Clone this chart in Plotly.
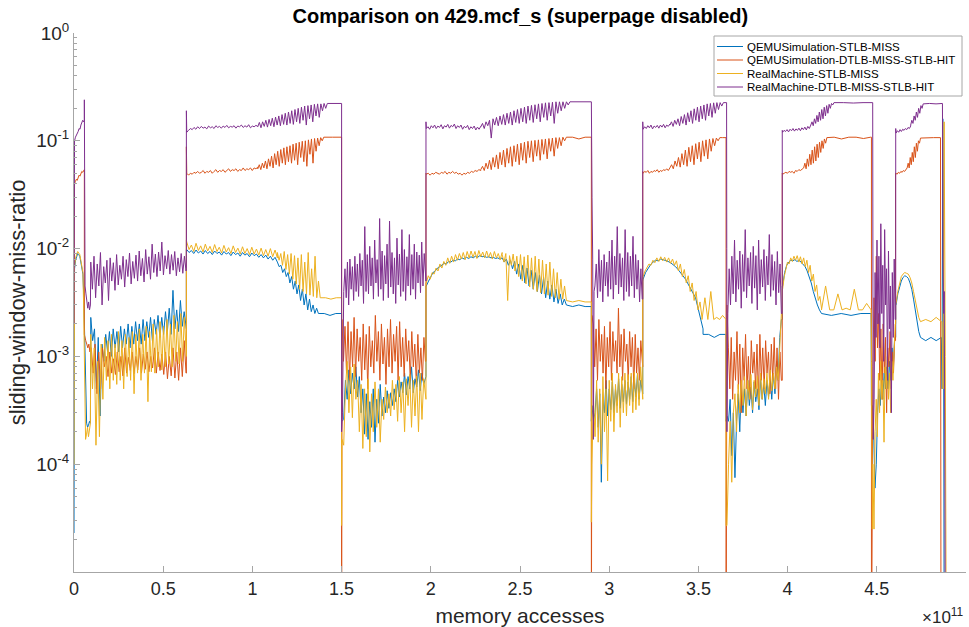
import numpy as np
import plotly.graph_objects as go

# x in units of 1e11 memory accesses; each segment: (x_start, x_end, [sliding-window miss ratio values])
names = ["QEMUSimulation-STLB-MISS", "QEMUSimulation-DTLB-MISS-STLB-HIT",
         "RealMachine-STLB-MISS", "RealMachine-DTLB-MISS-STLB-HIT"]
colors = ["#0072BD", "#D95319", "#EDB120", "#7E2F8E"]
x_ticks = [0, 0.5, 1, 1.5, 2, 2.5, 3, 3.5, 4, 4.5, 5]
x_tick_labels = ["0", "0.5", "1", "1.5", "2", "2.5", "3", "3.5", "4", "4.5", "5"]
y_ticks = [1e-4, 1e-3, 1e-2, 1e-1, 1]
y_tick_labels = ["10<sup>-4</sup>", "10<sup>-3</sup>", "10<sup>-2</sup>", "10<sup>-1</sup>", "10<sup>0</sup>"]

qemu_stlb_miss = [
    (0.0, 0.0, [2.3e-5, 9e-5]),
    (0.003, 0.05, [0.0065, 0.0078, 0.0086, 0.009, 0.0088, 0.0085, 0.0075, 0.0068, 0.0058]),
    (0.055, 0.092, [0.0035, 0.0011, 0.00035, 0.00024, 0.00022, 0.00023, 0.00025, 0.00024]),
    (0.094, 0.628, [0.0023, 0.0014, 0.0018, 0.0005, 0.0015, 0.00028, 0.0013, 0.0009, 0.0016, 0.0011, 0.0017, 0.001,
                    0.0018, 0.0012, 0.0017, 0.0011, 0.0019, 0.0012, 0.0018, 0.0013, 0.002, 0.0012, 0.0019, 0.0013,
                    0.0021, 0.0014, 0.002, 0.0013, 0.0022, 0.0014, 0.0021, 0.0015, 0.0023, 0.0014, 0.0022, 0.0016,
                    0.0024, 0.0015, 0.0023, 0.0016, 0.0026, 0.0017, 0.0028, 0.0016, 0.0041, 0.0018, 0.0027, 0.0017,
                    0.0033, 0.0019, 0.0026, 0.0018]),
    (0.63, 0.63, [0.0018, 0.0098]),
    (0.632, 1.14, [0.0098, 0.0092, 0.0096, 0.009, 0.0097, 0.0091, 0.0095, 0.0089, 0.0096, 0.009, 0.0094, 0.0088,
                   0.0095, 0.009, 0.0093, 0.0087, 0.0094, 0.0089, 0.0092, 0.0086, 0.0093, 0.0088, 0.0091, 0.0085,
                   0.0092, 0.0087, 0.009, 0.0084, 0.0091, 0.0086, 0.0089, 0.0083, 0.0088, 0.0082, 0.0087, 0.008,
                   0.0085, 0.0078, 0.0083, 0.0075]),
    (1.14, 1.37, [0.0075, 0.0068, 0.007, 0.006, 0.0065, 0.0055, 0.006, 0.0048, 0.0055, 0.0042, 0.005, 0.0038,
                  0.0046, 0.0033, 0.0042, 0.003, 0.0038, 0.0027, 0.0034, 0.0026, 0.003, 0.0025, 0.0028, 0.0025]),
    (1.37, 1.5, [0.0025, 0.0025, 0.0024, 0.0025, 0.0025]),
    (1.5, 1.5, [0.0025, 0.00025]),
    (1.502, 1.97, [0.00025, 0.00026, 0.0006, 0.0004, 0.00075, 0.00045, 0.0007, 0.0005, 0.0008, 0.00042, 0.00065,
                   0.0003, 0.0005, 0.00019, 0.00045, 0.00017, 0.00038, 0.00022, 0.0005, 0.00016, 0.0004, 0.00024,
                   0.00055, 0.00028, 0.00042, 0.0003, 0.00048, 0.00033, 0.00046, 0.00035, 0.0005, 0.00038, 0.0006,
                   0.00042, 0.00058, 0.00046, 0.0007, 0.00044, 0.00065, 0.0005, 0.0008, 0.00046, 0.00062, 0.00052,
                   0.00075, 0.00048, 0.0007, 0.00055, 0.00065]),
    (1.973, 1.973, [0.00065, 0.0045]),
    (1.975, 2.4, [0.0045, 0.005, 0.0055, 0.006, 0.0062, 0.0066, 0.0068, 0.007, 0.0073, 0.0072, 0.0076, 0.0075,
                  0.0078, 0.0077, 0.008, 0.0079, 0.0082, 0.008, 0.0083, 0.0081, 0.0084, 0.0082, 0.0085, 0.0083,
                  0.0086, 0.0084, 0.0085, 0.0083, 0.0084, 0.0082, 0.0083, 0.0081, 0.0082, 0.008, 0.0081]),
    (2.4, 2.76, [0.0082, 0.0075, 0.008, 0.007, 0.0078, 0.0065, 0.0076, 0.0058, 0.0072, 0.0052, 0.007, 0.0048,
                 0.0066, 0.0045, 0.0063, 0.0042, 0.006, 0.004, 0.0057, 0.0038, 0.0054, 0.0035, 0.005, 0.0034,
                 0.0046, 0.0032, 0.0042, 0.0031, 0.0038, 0.003, 0.0034, 0.003]),
    (2.76, 2.9, [0.003, 0.0029, 0.003, 0.0029, 0.0029]),
    (2.9, 2.9, [0.0029, 0.00025]),
    (2.903, 3.185, [0.00035, 0.00025, 0.0003, 0.0005, 0.00022, 0.00045, 6.8e-5, 0.0004, 0.0003, 0.0006, 0.00028,
                    0.0005, 0.00032, 0.00058, 0.0003, 0.0005, 0.00035, 0.00062, 0.00033, 0.00055, 0.00038, 0.0006,
                    0.00036, 0.00058, 0.0004, 0.00065, 0.00038, 0.0006, 0.00042, 0.00068, 0.0004, 0.0006, 0.00045]),
    (3.188, 3.188, [0.00045, 0.005]),
    (3.19, 3.526, [0.0052, 0.006, 0.0066, 0.0071, 0.0075, 0.0078, 0.0077, 0.008, 0.0079, 0.0078, 0.0076, 0.0074,
                   0.0071, 0.0068, 0.0064, 0.006, 0.0056, 0.0052, 0.0047, 0.0043, 0.0039, 0.0035, 0.0028, 0.0022,
                   0.0018]),
    (3.526, 3.652, [0.0016, 0.0016, 0.0015, 0.0016, 0.0016]),
    (3.655, 3.655, [0.0016, 0.00025]),
    (3.66, 3.965, [0.00028, 0.00025, 0.0004, 0.00012, 0.0003, 7.5e-5, 0.00025, 0.00045, 0.0002, 0.00055, 0.0003,
                   0.0005, 0.00028, 0.0006, 0.00035, 0.00052, 0.0003, 0.00058, 0.00038, 0.0005, 0.00032, 0.00062,
                   0.0004, 0.00055, 0.00035, 0.0006, 0.00042, 0.00065, 0.0004, 0.0007, 0.00045, 0.0009, 0.0006,
                   0.0015, 0.0022]),
    (3.97, 3.97, [0.0022, 0.0045]),
    (3.972, 4.19, [0.0045, 0.006, 0.007, 0.0075, 0.0078, 0.0077, 0.0079, 0.0076, 0.0078, 0.0075, 0.0072, 0.0068,
                   0.0062, 0.0055, 0.0048, 0.004, 0.0034, 0.003, 0.0027, 0.0025]),
    (4.19, 4.466, [0.0025, 0.0024, 0.0025, 0.0024, 0.0025, 0.0025]),
    (4.468, 4.47, [0.0025, 0.0009, 0.00035]),
    (4.475, 4.6, [0.00035, 0.0002, 6e-5, 0.0001, 0.0003, 0.0005, 0.00035, 0.0006, 0.0004, 0.0007, 0.0005, 0.0008,
                  0.0005, 0.0009, 0.0006, 0.0012, 0.0008, 0.0015]),
    (4.606, 4.606, [0.0015, 0.003]),
    (4.608, 4.745, [0.003, 0.0038, 0.0045, 0.005, 0.0054, 0.0056, 0.0055, 0.0053, 0.0048, 0.0042, 0.0034, 0.0027,
                    0.0021, 0.0017, 0.0015]),
    (4.745, 4.862, [0.0015, 0.0014, 0.0015, 0.0014, 0.0015]),
    (4.862, 4.878, [0.0015, 0.0005, 0.16, 0.004, 1e-6]),
]

qemu_dtlb_miss_stlb_hit = [
    (0.0, 0.0, [0.0019, 0.038]),
    (0.003, 0.054, [0.04, 0.042, 0.044, 0.043, 0.046, 0.048, 0.047, 0.05, 0.052, 0.051, 0.054]),
    (0.058, 0.058, [0.054, 0.0016]),
    (0.06, 0.095, [0.0015, 0.0014, 0.0013, 0.0012, 0.0013, 0.0011, 0.0012]),
    (0.097, 0.628, [0.0012, 0.0007, 0.0013, 0.00045, 0.0011, 0.0005, 0.0012, 0.0008, 0.001, 0.00065, 0.0011, 0.0007,
                    0.00095, 0.00068, 0.0011, 0.00072, 0.001, 0.00066, 0.0012, 0.0007, 0.00098, 0.00074, 0.0011,
                    0.00069, 0.001, 0.00075, 0.0012, 0.0007, 0.00105, 0.00076, 0.0011, 0.00072, 0.001, 0.00078,
                    0.0012, 0.0007, 0.0011, 0.00074, 0.00105, 0.00068, 0.0011, 0.00062, 0.001, 0.00066, 0.0012,
                    0.00063, 0.0011, 0.0006, 0.0012, 0.00065, 0.0014, 0.0007]),
    (0.63, 0.63, [0.0007, 0.088]),
    (0.632, 1.03, [0.05, 0.048, 0.05, 0.049, 0.051, 0.05, 0.052, 0.05, 0.051, 0.053, 0.05, 0.052, 0.051, 0.053,
                   0.05, 0.052, 0.054, 0.051, 0.053, 0.052, 0.054, 0.051, 0.053, 0.055, 0.052, 0.054, 0.053, 0.055,
                   0.052, 0.054, 0.053, 0.056, 0.053, 0.055, 0.054, 0.056, 0.053, 0.056, 0.055, 0.057]),
    (1.03, 1.4, [0.055, 0.06, 0.054, 0.062, 0.056, 0.065, 0.055, 0.068, 0.058, 0.072, 0.056, 0.076, 0.06, 0.08,
                 0.058, 0.083, 0.062, 0.086, 0.06, 0.088, 0.064, 0.09, 0.062, 0.093, 0.066, 0.095, 0.06, 0.097,
                 0.07, 0.099, 0.064, 0.1, 0.058, 0.102, 0.075, 0.104, 0.062, 0.105, 0.08, 0.106, 0.09, 0.107, 0.1,
                 0.108]),
    (1.4, 1.5, [0.108, 0.108, 0.108]),
    (1.5, 1.5, [0.108, 1e-6]),
    (1.502, 1.97, [0.0022, 0.0009, 0.0019, 0.0007, 0.0021, 0.0006, 0.0017, 0.0008, 0.0023, 0.00065, 0.0018, 0.0009,
                   0.0015, 0.0006, 0.002, 0.00075, 0.0016, 0.0005, 0.0019, 0.0008, 0.0014, 0.0007, 0.0024, 0.0009,
                   0.0017, 0.0006, 0.002, 0.00085, 0.0015, 0.00055, 0.0018, 0.0008, 0.0022, 0.0007, 0.0016, 0.0009,
                   0.0019, 0.0006, 0.0021, 0.0008, 0.0015, 0.00065, 0.0018, 0.0009, 0.0014, 0.0006, 0.0017, 0.0008,
                   0.0013, 0.00055, 0.0016, 0.0007, 0.0012, 0.0006, 0.0015, 0.0009]),
    (1.973, 1.973, [0.0009, 0.05]),
    (1.975, 2.28, [0.049, 0.05, 0.048, 0.05, 0.049, 0.051, 0.05, 0.049, 0.051, 0.05, 0.052, 0.049, 0.051, 0.05,
                   0.052, 0.05, 0.051, 0.049, 0.05, 0.048, 0.05, 0.049, 0.051, 0.05, 0.052, 0.051, 0.053, 0.052,
                   0.054, 0.053]),
    (2.28, 2.76, [0.054, 0.058, 0.053, 0.062, 0.055, 0.066, 0.054, 0.07, 0.057, 0.074, 0.055, 0.078, 0.06, 0.082,
                  0.057, 0.085, 0.062, 0.088, 0.058, 0.09, 0.064, 0.093, 0.06, 0.095, 0.066, 0.097, 0.062, 0.099,
                  0.07, 0.1, 0.064, 0.101, 0.072, 0.102, 0.066, 0.103, 0.075, 0.104, 0.068, 0.105, 0.08, 0.106,
                  0.072, 0.107, 0.085, 0.107, 0.09, 0.108, 0.1, 0.108]),
    (2.76, 2.9, [0.108, 0.108, 0.104, 0.108, 0.108]),
    (2.9, 2.9, [0.108, 1e-6]),
    (2.903, 3.185, [0.0024, 0.002, 0.0008, 0.0018, 0.0006, 0.0022, 0.0009, 0.0016, 0.0007, 0.0019, 0.0005, 0.0015,
                    0.0008, 0.0021, 0.0006, 0.0017, 0.0009, 0.0014, 0.0007, 0.0028, 0.0008, 0.0016, 0.0006, 0.0018,
                    0.0009, 0.0013, 0.0006, 0.0017, 0.0008, 0.0015, 0.0005, 0.0016, 0.0007, 0.0012, 0.0006, 0.0014,
                    0.0008]),
    (3.188, 3.188, [0.0008, 0.052]),
    (3.19, 3.34, [0.05, 0.052, 0.051, 0.053, 0.05, 0.052, 0.051, 0.053, 0.052, 0.054, 0.051, 0.053, 0.052, 0.054,
                  0.053, 0.055, 0.053, 0.056]),
    (3.34, 3.62, [0.056, 0.06, 0.055, 0.065, 0.058, 0.07, 0.057, 0.076, 0.06, 0.082, 0.058, 0.087, 0.064, 0.09,
                  0.06, 0.094, 0.068, 0.097, 0.064, 0.1, 0.072, 0.102, 0.068, 0.104, 0.08, 0.105, 0.09, 0.106, 0.1,
                  0.107]),
    (3.62, 3.652, [0.107, 0.107, 0.107]),
    (3.655, 3.655, [0.107, 1e-6]),
    (3.66, 3.965, [0.003, 0.0012, 0.0005, 0.0015, 0.0004, 0.0011, 0.0006, 0.0017, 0.0005, 0.0013, 0.0003, 0.0012,
                   0.0006, 0.0016, 0.0005, 0.001, 0.0004, 0.0014, 0.0007, 0.0011, 0.0005, 0.0013, 0.0004, 0.0016,
                   0.0006, 0.0012, 0.0005, 0.0014, 0.0007, 0.0011, 0.00045, 0.0013, 0.0006, 0.0015, 0.0005, 0.0012,
                   0.0004, 0.0011, 0.0006]),
    (3.97, 3.97, [0.0006, 0.05]),
    (3.972, 4.09, [0.049, 0.05, 0.051, 0.05, 0.052, 0.051, 0.052, 0.05, 0.053, 0.052, 0.054, 0.053, 0.055, 0.056]),
    (4.09, 4.22, [0.056, 0.062, 0.055, 0.068, 0.058, 0.075, 0.06, 0.082, 0.062, 0.088, 0.065, 0.093, 0.07, 0.097,
                  0.078, 0.1, 0.085, 0.104, 0.095, 0.107]),
    (4.22, 4.466, [0.107, 0.108, 0.104, 0.108, 0.108, 0.105, 0.108]),
    (4.47, 4.47, [0.108, 1e-6]),
    (4.478, 4.6, [0.0008, 0.0035, 0.0009, 0.0085, 0.0012, 0.0025, 0.0006, 0.0018, 0.0004, 0.002, 0.0007, 0.0015,
                  0.0003, 0.0012, 0.0008, 0.0017, 0.0005, 0.0011, 0.0007, 0.0014]),
    (4.605, 4.605, [0.0014, 0.05]),
    (4.607, 4.67, [0.05, 0.049, 0.051, 0.05, 0.052, 0.051, 0.053, 0.052, 0.054, 0.055]),
    (4.67, 4.745, [0.056, 0.062, 0.056, 0.07, 0.06, 0.078, 0.064, 0.088, 0.07, 0.095, 0.08, 0.1, 0.095, 0.106]),
    (4.745, 4.855, [0.106, 0.107, 0.107, 0.107]),
    (4.857, 4.86, [0.107, 1e-6]),
]

real_stlb_miss = [
    (0.0, 0.0, [1e-4, 0.0015, 0.0065]),
    (0.003, 0.05, [0.0068, 0.0082, 0.009, 0.0094, 0.0091, 0.0088, 0.0078, 0.007, 0.006]),
    (0.054, 0.092, [0.003, 0.0005, 0.00017, 0.00019, 0.00022, 0.00018, 0.0002, 0.00024]),
    (0.094, 0.628, [0.0016, 0.0005, 0.0012, 0.00015, 0.0009, 0.00018, 0.0013, 0.0004, 0.0015, 0.0006, 0.0014,
                    0.0005, 0.0016, 0.0006, 0.0013, 0.00055, 0.0017, 0.0006, 0.0014, 0.0005, 0.0016, 0.00065,
                    0.0015, 0.0006, 0.0017, 0.00045, 0.0016, 0.0007, 0.0018, 0.0006, 0.0016, 0.0007, 0.0019,
                    0.00038, 0.0017, 0.00072, 0.002, 0.0007, 0.0018, 0.0008, 0.0021, 0.00075, 0.0019, 0.0008,
                    0.0022, 0.00085, 0.002, 0.0008, 0.0024, 0.0009, 0.0021, 0.00085, 0.0025, 0.0009, 0.0023, 0.001]),
    (0.63, 0.63, [0.001, 0.012]),
    (0.632, 1.14, [0.0115, 0.0098, 0.0108, 0.0094, 0.0112, 0.0096, 0.0106, 0.0093, 0.011, 0.0095, 0.0105, 0.0092,
                   0.0109, 0.0094, 0.0103, 0.0091, 0.0107, 0.0093, 0.0102, 0.009, 0.0106, 0.0092, 0.0101, 0.0089,
                   0.0104, 0.009, 0.01, 0.0088, 0.0103, 0.0089, 0.0099, 0.0087, 0.0101, 0.0086, 0.0098, 0.0085,
                   0.01, 0.0084, 0.0097, 0.0082]),
    (1.14, 1.38, [0.0092, 0.0078, 0.009, 0.007, 0.0094, 0.0064, 0.0088, 0.0058, 0.009, 0.0052, 0.0086, 0.0047,
                  0.0082, 0.0042, 0.0088, 0.004, 0.0075, 0.0038, 0.0092, 0.0037, 0.0065, 0.0036, 0.0085, 0.0035,
                  0.005, 0.0035]),
    (1.38, 1.5, [0.0035, 0.0035, 0.0034, 0.0035, 0.0035]),
    (1.5, 1.5, [0.0035, 2.7e-5]),
    (1.502, 1.97, [0.00017, 0.00015, 0.0005, 0.0009, 0.0003, 0.0008, 0.00027, 0.00085, 0.0004, 0.0006, 0.0002,
                   0.00055, 0.00014, 0.0005, 0.00018, 0.00062, 0.00013, 0.00045, 0.0002, 0.00058, 0.00022, 0.0005,
                   0.00016, 0.0004, 0.00026, 0.00052, 0.0003, 0.00045, 0.00028, 0.0006, 0.00032, 0.00055, 0.00025,
                   0.00065, 0.0003, 0.00058, 0.0002, 0.00062, 0.00035, 0.00068, 0.00022, 0.0006, 0.00028, 0.00066,
                   0.0002, 0.0007, 0.00026, 0.00062, 0.0004]),
    (1.973, 1.973, [0.0004, 0.0048]),
    (1.975, 2.4, [0.0048, 0.0056, 0.0052, 0.006, 0.0058, 0.0066, 0.0062, 0.0072, 0.0066, 0.0076, 0.007, 0.0082,
                  0.0073, 0.0085, 0.0075, 0.0088, 0.0078, 0.009, 0.008, 0.0092, 0.0079, 0.0094, 0.0082, 0.0095,
                  0.0083, 0.0094, 0.0081, 0.0096, 0.0084, 0.0093, 0.0082, 0.0095, 0.0083, 0.0092, 0.008, 0.0094,
                  0.0082, 0.009, 0.0079, 0.0092]),
    (2.4, 2.76, [0.0088, 0.0075, 0.009, 0.0033, 0.0086, 0.007, 0.0089, 0.0062, 0.0085, 0.0055, 0.0088, 0.005,
                 0.0084, 0.0047, 0.0087, 0.0044, 0.0082, 0.0042, 0.0085, 0.004, 0.008, 0.0039, 0.0078, 0.0038,
                 0.0072, 0.0037, 0.0075, 0.0036, 0.0065, 0.0035, 0.006, 0.0034, 0.0052, 0.0034, 0.0045, 0.0033]),
    (2.76, 2.9, [0.0033, 0.0032, 0.0033, 0.0032, 0.0032]),
    (2.9, 2.9, [0.0032, 2.9e-5]),
    (2.903, 3.185, [0.0001, 0.0004, 0.00018, 0.0006, 0.00016, 0.0005, 0.0001, 0.00065, 0.0002, 0.0005, 7e-5,
                    0.0006, 0.00025, 0.0007, 0.0002, 0.00055, 0.0003, 0.0007, 0.00022, 0.00065, 0.0003, 0.0007,
                    0.00028, 0.00068, 0.00035, 0.0007, 0.0003, 0.00072, 0.00032, 0.0007, 0.00035, 0.0008, 0.0004]),
    (3.188, 3.188, [0.0004, 0.0055]),
    (3.19, 3.52, [0.0055, 0.0062, 0.0066, 0.0072, 0.007, 0.0078, 0.0074, 0.0082, 0.0076, 0.0084, 0.0077, 0.0083,
                  0.0075, 0.0082, 0.0073, 0.008, 0.007, 0.0077, 0.0062, 0.0072, 0.0055, 0.0064, 0.0048, 0.0056,
                  0.004, 0.0048, 0.0033, 0.004, 0.0027, 0.0032, 0.0023]),
    (3.52, 3.652, [0.0022, 0.0035, 0.0022, 0.004, 0.0022, 0.0023, 0.0022, 0.0024, 0.0022]),
    (3.655, 3.655, [0.0022, 2.7e-5]),
    (3.66, 3.965, [2.7e-5, 0.0001, 0.00025, 6.8e-5, 0.0003, 0.00045, 0.0002, 0.00055, 0.0003, 0.0006, 0.00035,
                   0.00065, 0.00028, 0.0006, 0.0004, 0.00068, 0.00032, 0.0006, 0.00042, 0.00066, 0.00035, 0.0007,
                   0.0004, 0.00062, 0.00045, 0.0007, 0.0004, 0.00075, 0.00048, 0.0007, 0.0005, 0.0008, 0.0006,
                   0.0012, 0.0025]),
    (3.97, 3.97, [0.0025, 0.0042]),
    (3.972, 4.19, [0.0042, 0.0055, 0.0065, 0.0075, 0.0072, 0.0082, 0.0076, 0.0085, 0.0078, 0.0086, 0.0075, 0.0084,
                   0.0072, 0.0082, 0.0068, 0.0078, 0.006, 0.007, 0.005, 0.0058, 0.004, 0.0046, 0.0033, 0.0036,
                   0.0028]),
    (4.19, 4.466, [0.0027, 0.0045, 0.0027, 0.0027, 0.0038, 0.0027, 0.0028, 0.0027, 0.0042, 0.0027, 0.0027, 0.0031,
                   0.0027]),
    (4.468, 4.475, [0.0027, 0.0009, 0.00024, 2.5e-5]),
    (4.478, 4.603, [0.0001, 2.5e-5, 0.0002, 0.0004, 0.00018, 0.0007, 0.0003, 0.0009, 0.0004, 0.0006, 0.00016,
                    0.0008, 0.0005, 0.001, 0.0004, 0.0007, 0.0003, 0.0009, 0.0006, 0.0012, 0.002]),
    (4.606, 4.606, [0.002, 0.0031]),
    (4.608, 4.745, [0.0031, 0.004, 0.0048, 0.0055, 0.0058, 0.006, 0.0059, 0.0058, 0.0054, 0.0048, 0.004, 0.0033,
                    0.0027, 0.0023, 0.0021]),
    (4.745, 4.862, [0.0021, 0.0022, 0.0021, 0.0023, 0.0021]),
    (4.865, 4.89, [0.0021, 0.0005, 0.15, 0.001, 1e-6]),
]

real_dtlb_miss_stlb_hit = [
    (0.0, 0.0, [0.002, 0.095]),
    (0.003, 0.054, [0.1, 0.108, 0.112, 0.118, 0.122, 0.13, 0.128, 0.14, 0.148, 0.155, 0.15]),
    (0.058, 0.058, [0.155, 0.24, 0.01]),
    (0.062, 0.092, [0.0045, 0.0038, 0.003, 0.0028, 0.0032, 0.0027, 0.003]),
    (0.094, 0.628, [0.0075, 0.0042, 0.0085, 0.0035, 0.0072, 0.0045, 0.0092, 0.003, 0.0068, 0.0048, 0.0078, 0.0033,
                    0.0082, 0.005, 0.0074, 0.0041, 0.0088, 0.0046, 0.007, 0.0052, 0.0085, 0.0044, 0.0079, 0.0055,
                    0.0091, 0.0047, 0.0076, 0.0053, 0.0087, 0.005, 0.0095, 0.0056, 0.0081, 0.0049, 0.0098, 0.0058,
                    0.0084, 0.0052, 0.011, 0.006, 0.0089, 0.0055, 0.0093, 0.0062, 0.0115, 0.0057, 0.0086, 0.0065,
                    0.0096, 0.0058, 0.0088, 0.0063, 0.0094, 0.0056, 0.0082, 0.0061, 0.009, 0.0059, 0.0085, 0.0062]),
    (0.63, 0.63, [0.0065, 0.19]),
    (0.632, 1.03, [0.12, 0.125, 0.13, 0.127, 0.133, 0.128, 0.135, 0.13, 0.136, 0.131, 0.134, 0.129, 0.137, 0.132,
                   0.135, 0.13, 0.138, 0.133, 0.136, 0.131, 0.137, 0.133, 0.139, 0.132, 0.136, 0.134, 0.138, 0.131,
                   0.137, 0.135, 0.14, 0.133, 0.138, 0.134, 0.141, 0.132, 0.137, 0.135, 0.139, 0.136]),
    (1.03, 1.42, [0.135, 0.148, 0.132, 0.15, 0.136, 0.155, 0.134, 0.158, 0.138, 0.162, 0.135, 0.166, 0.14, 0.17,
                  0.138, 0.175, 0.142, 0.18, 0.14, 0.185, 0.145, 0.19, 0.142, 0.195, 0.15, 0.2, 0.145, 0.205, 0.155,
                  0.21, 0.14, 0.212, 0.16, 0.215, 0.15, 0.218, 0.17, 0.22, 0.165, 0.22, 0.19, 0.222, 0.2, 0.222]),
    (1.42, 1.5, [0.222, 0.222, 0.222]),
    (1.5, 1.5, [0.222, 0.05, 0.01, 0.0002]),
    (1.505, 1.97, [0.0003, 0.004, 0.0065, 0.0035, 0.0075, 0.003, 0.008, 0.0042, 0.0068, 0.0033, 0.0085, 0.004,
                   0.0072, 0.0036, 0.009, 0.0045, 0.0078, 0.0031, 0.016, 0.004, 0.0088, 0.0038, 0.0105, 0.0045,
                   0.0082, 0.0034, 0.012, 0.0048, 0.0079, 0.0036, 0.019, 0.0042, 0.0095, 0.0033, 0.0086, 0.0047,
                   0.011, 0.0035, 0.018, 0.0044, 0.0092, 0.0038, 0.0082, 0.0031, 0.0125, 0.0046, 0.0089, 0.0036,
                   0.015, 0.004, 0.0098, 0.0033, 0.0084, 0.0045, 0.0135, 0.0037, 0.0088, 0.0042, 0.011, 0.0034,
                   0.0093, 0.0048, 0.0087, 0.0039, 0.0115, 0.0045, 0.009, 0.0052]),
    (1.973, 1.973, [0.005, 0.15]),
    (1.975, 2.28, [0.13, 0.135, 0.128, 0.138, 0.132, 0.14, 0.13, 0.137, 0.133, 0.141, 0.129, 0.138, 0.134, 0.142,
                   0.131, 0.139, 0.135, 0.143, 0.13, 0.138, 0.133, 0.14, 0.128, 0.136, 0.132, 0.139, 0.127, 0.135,
                   0.13, 0.137, 0.126, 0.134, 0.128, 0.136]),
    (2.28, 2.78, [0.135, 0.145, 0.13, 0.15, 0.138, 0.155, 0.106, 0.16, 0.14, 0.165, 0.138, 0.17, 0.142, 0.175,
                  0.14, 0.18, 0.145, 0.185, 0.14, 0.19, 0.148, 0.195, 0.145, 0.2, 0.15, 0.205, 0.145, 0.21, 0.155,
                  0.213, 0.148, 0.216, 0.16, 0.22, 0.15, 0.222, 0.165, 0.225, 0.155, 0.226, 0.17, 0.228, 0.145,
                  0.23, 0.18, 0.23, 0.19, 0.23, 0.2, 0.23, 0.215, 0.23]),
    (2.78, 2.9, [0.23, 0.23, 0.23]),
    (2.9, 2.915, [0.23, 0.03, 0.008, 0.00017, 0.004]),
    (2.92, 3.185, [0.0045, 0.0072, 0.0035, 0.0098, 0.004, 0.0078, 0.0032, 0.0088, 0.0045, 0.0075, 0.0036, 0.0095,
                   0.0042, 0.012, 0.0034, 0.0085, 0.0046, 0.016, 0.0038, 0.009, 0.0044, 0.0082, 0.0033, 0.015,
                   0.004, 0.0092, 0.0036, 0.0085, 0.0045, 0.013, 0.0035, 0.0088, 0.0042, 0.0078, 0.0032, 0.0065,
                   0.0034]),
    (3.188, 3.188, [0.0034, 0.15]),
    (3.19, 3.34, [0.128, 0.135, 0.13, 0.138, 0.132, 0.14, 0.129, 0.137, 0.133, 0.139, 0.131, 0.14, 0.134, 0.142,
                  0.132, 0.14, 0.136, 0.143]),
    (3.34, 3.64, [0.14, 0.15, 0.136, 0.155, 0.142, 0.16, 0.138, 0.168, 0.145, 0.175, 0.14, 0.182, 0.15, 0.19,
                  0.145, 0.198, 0.155, 0.205, 0.15, 0.21, 0.16, 0.215, 0.155, 0.22, 0.17, 0.222, 0.165, 0.225,
                  0.18, 0.226, 0.195, 0.226, 0.21, 0.226]),
    (3.645, 3.658, [0.226, 0.226]),
    (3.658, 3.66, [0.226, 0.01, 0.0002]),
    (3.665, 3.965, [0.0025, 0.0065, 0.003, 0.0085, 0.0038, 0.012, 0.0032, 0.0078, 0.0042, 0.0095, 0.0028, 0.0088,
                    0.004, 0.015, 0.0035, 0.0082, 0.0045, 0.0092, 0.0031, 0.0105, 0.0043, 0.0086, 0.0027, 0.012,
                    0.0038, 0.0079, 0.0044, 0.0098, 0.0033, 0.0085, 0.0046, 0.0135, 0.0036, 0.0088, 0.0041, 0.0076,
                    0.003, 0.0094, 0.0039, 0.0072, 0.0025]),
    (3.97, 3.97, [0.0025, 0.125]),
    (3.972, 4.13, [0.12, 0.125, 0.122, 0.127, 0.121, 0.128, 0.124, 0.13, 0.123, 0.129, 0.125, 0.131, 0.124, 0.132,
                   0.127, 0.134, 0.126, 0.136, 0.13, 0.14]),
    (4.13, 4.26, [0.14, 0.15, 0.138, 0.16, 0.145, 0.172, 0.15, 0.185, 0.155, 0.195, 0.16, 0.205, 0.17, 0.212, 0.18,
                  0.218, 0.2, 0.222, 0.215, 0.226]),
    (4.26, 4.477, [0.226, 0.226, 0.224, 0.226, 0.226]),
    (4.477, 4.48, [0.226, 0.003, 0.00017]),
    (4.485, 4.603, [0.0004, 0.006, 0.0015, 0.012, 0.002, 0.0085, 0.0012, 0.017, 0.0025, 0.007, 0.0009, 0.015, 0.003,
                    0.0065, 0.0006, 0.0095, 0.0018, 0.0045, 0.0003, 0.006, 0.0015, 0.008, 0.0022]),
    (4.606, 4.606, [0.0022, 0.13]),
    (4.608, 4.69, [0.118, 0.124, 0.12, 0.127, 0.122, 0.128, 0.125, 0.13, 0.127, 0.133, 0.13, 0.137]),
    (4.69, 4.76, [0.14, 0.155, 0.145, 0.17, 0.155, 0.185, 0.165, 0.2, 0.18, 0.212, 0.2, 0.22]),
    (4.76, 4.868, [0.22, 0.222, 0.22, 0.222]),
    (4.868, 4.885, [0.222, 0.008, 0.0025, 0.004, 0.0003, 1e-6]),
]

series = [qemu_stlb_miss, qemu_dtlb_miss_stlb_hit, real_stlb_miss, real_dtlb_miss_stlb_hit]


def build(segments):
    xs, ys = [], []
    for x0, x1, vals in segments:
        xs.extend(np.linspace(x0, x1, len(vals)).tolist())
        ys.extend(vals)
    return xs, ys


FONT = "Liberation Sans, Arial, Helvetica, sans-serif"
W, H = 969, 627
ML, MR, MT, MB = 74, 3, 33, 55
PW, PH = W - ML - MR, H - MT - MB


def px2paper_x(px):
    return (px - ML) / PW


def px2paper_y(py):
    return (H - MB - py) / PH


fig = go.Figure()
for segs, name, col in zip(series, names, colors):
    xs, ys = build(segs)
    fig.add_trace(go.Scatter(x=xs, y=ys, mode="lines", name=name, showlegend=False,
                             line=dict(color=col, width=1)))

axis_col = "#a6a6a6"
fig.update_layout(
    width=W, height=H,
    margin=dict(l=ML, r=MR, t=MT, b=MB),
    paper_bgcolor="white", plot_bgcolor="white",
    font=dict(family=FONT, color="#262626"),
    title=dict(text="<b>Comparison on 429.mcf_s (superpage disabled)</b>",
               x=0.537, xanchor="center", y=0.975, yanchor="middle",
               font=dict(size=20, color="black", family=FONT)),
    showlegend=False,
)
fig.update_xaxes(range=[0, 5], tickvals=x_ticks, ticktext=x_tick_labels,
                 ticks="inside", ticklen=6, tickcolor=axis_col,
                 showline=True, linecolor=axis_col, linewidth=1,
                 showgrid=False, zeroline=False,
                 tickfont=dict(size=18, color="#262626"),
                 title=dict(text="memory accesses", font=dict(size=21, color="#262626"), standoff=10))
fig.update_yaxes(type="log", range=[-5, 0], tickvals=y_ticks, ticktext=y_tick_labels,
                 ticks="inside", ticklen=6, tickcolor=axis_col,
                 minor=dict(ticks="inside", ticklen=3, tickcolor=axis_col, dtick="D1"),
                 showline=True, linecolor=axis_col, linewidth=1,
                 showgrid=False, zeroline=False,
                 tickfont=dict(size=19, color="#262626"),
                 title=dict(text="sliding-window-miss-ratio", font=dict(size=22, color="#262626"), standoff=4))
fig.add_annotation(text="×10<sup>11</sup>", xref="paper", yref="paper", x=1.0, y=0,
                   xanchor="right", yanchor="top", yshift=-31, showarrow=False,
                   font=dict(size=17, color="#262626", family=FONT))

# legend box drawn in the MATLAB style (compact rows)
legend_left, legend_right, legend_top, legend_bottom = 714, 962, 36, 96
legend_rows = [46.5, 60, 73.5, 87]
fig.add_shape(type="rect", xref="paper", yref="paper",
              x0=px2paper_x(legend_left), x1=px2paper_x(legend_right),
              y0=px2paper_y(legend_bottom), y1=px2paper_y(legend_top),
              line=dict(color="#a6a6a6", width=1), fillcolor="white", layer="above")
for name, col, ry in zip(names, colors, legend_rows):
    fig.add_shape(type="line", xref="paper", yref="paper",
                  x0=px2paper_x(717), x1=px2paper_x(743),
                  y0=px2paper_y(ry), y1=px2paper_y(ry),
                  line=dict(color=col, width=1), layer="above")
    fig.add_annotation(text=name, xref="paper", yref="paper",
                       x=px2paper_x(745), y=px2paper_y(ry), xanchor="left", yanchor="middle",
                       showarrow=False, font=dict(size=11.5, color="black", family=FONT))

fig.write_html("out.html")
